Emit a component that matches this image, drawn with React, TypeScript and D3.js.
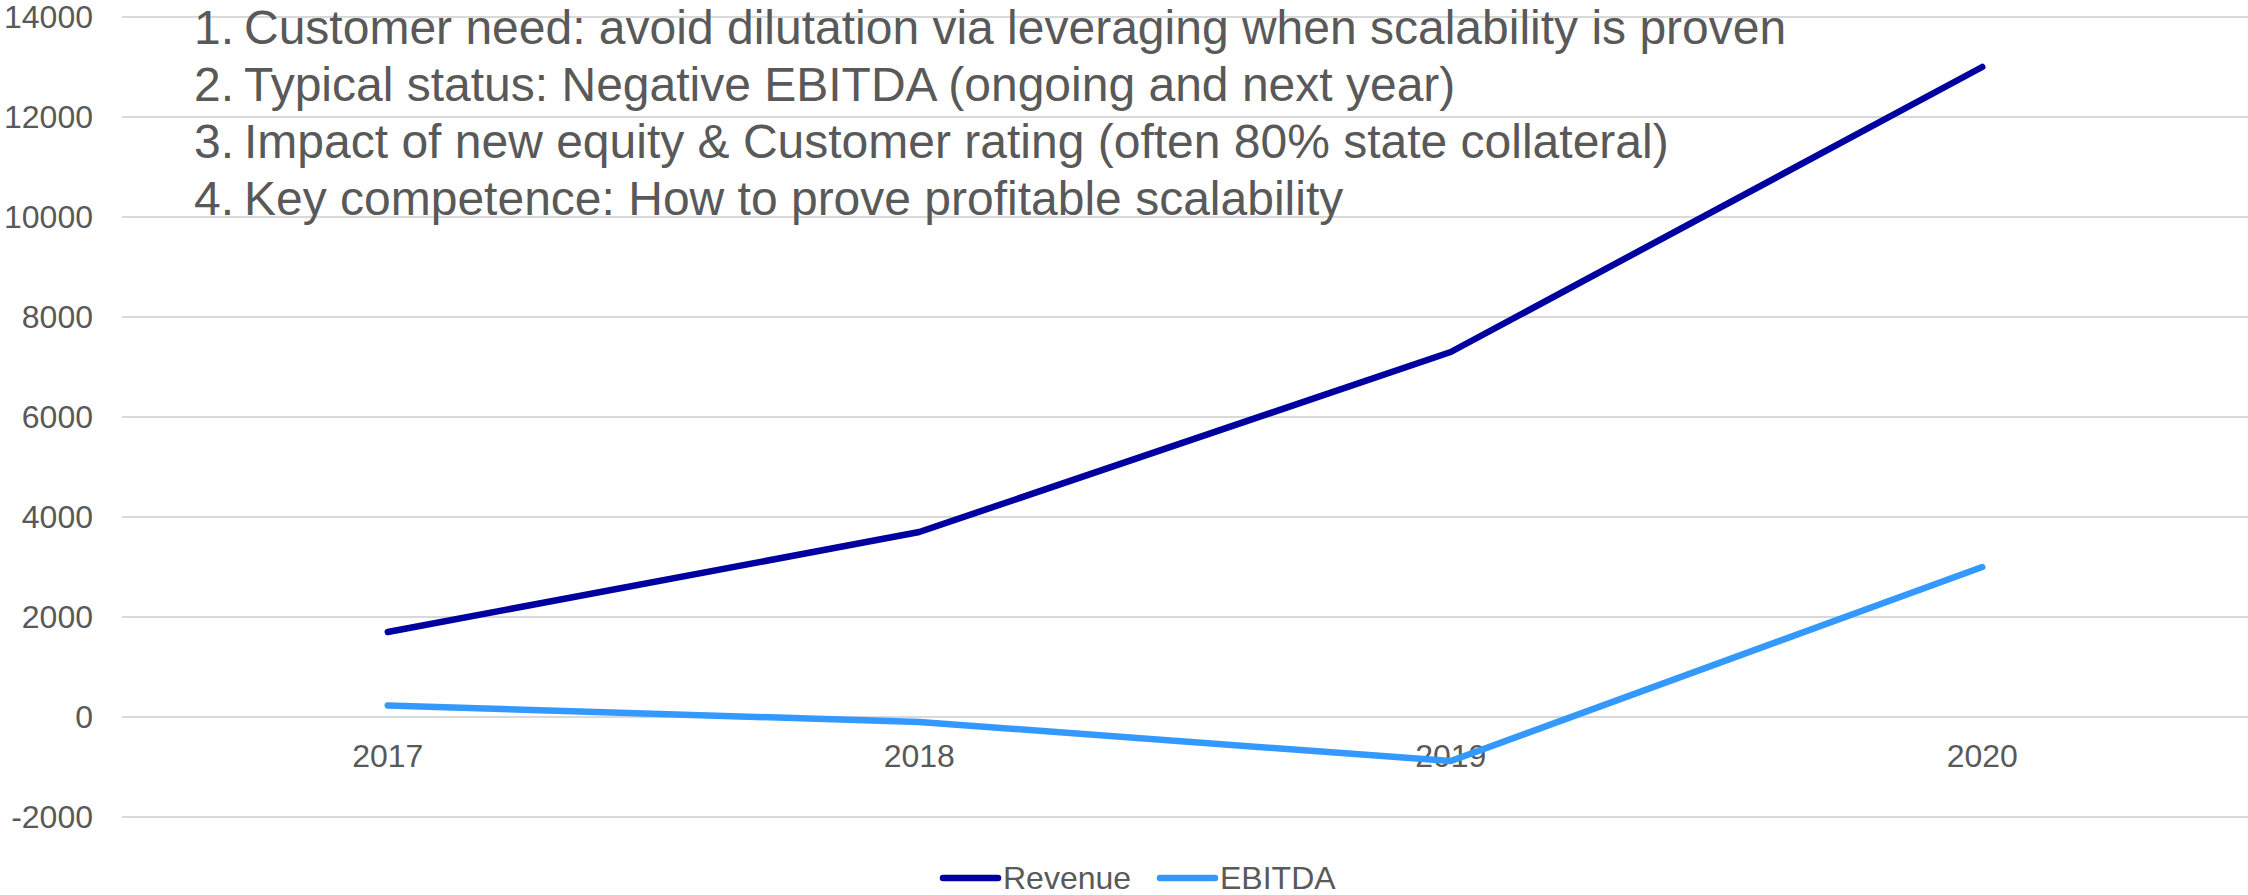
import React, { useEffect, useRef } from 'react'
import * as d3 from 'd3'

const years = ['2017', '2018', '2019', '2020']
const revenue = [1700, 3700, 7300, 13000]
const ebitda = [230, -100, -880, 3000]
const yTicks = [-2000, 0, 2000, 4000, 6000, 8000, 10000, 12000, 14000]
const notes = [
    'Customer need: avoid dilutation via leveraging when scalability is proven',
    'Typical status: Negative EBITDA (ongoing and next year)',
    'Impact of new equity & Customer rating (often 80% state collateral)',
    'Key competence: How to prove profitable scalability'
]
const seriesNames = ['Revenue', 'EBITDA']
const seriesColors = ['#0000a0', '#3399ff']

const width = 2248
const height = 895
const margin = { top: 17, right: 0, bottom: 78, left: 122 }
const font = '"Liberation Sans", Arial, sans-serif'
const textColor = '#595959'

export default function App() {
    const node = useRef<SVGSVGElement>(null)

    useEffect(() => {
        const svg = d3.select(node.current)
        svg.selectAll('*').remove()

        const x = d3.scaleBand()
            .domain(years)
            .range([margin.left, width - margin.right])
            .paddingInner(0)

        const y = d3.scaleLinear()
            .domain([-2000, 14000])
            .range([height - margin.bottom, margin.top])

        // gridlines
        svg.append('g')
            .selectAll('line')
            .data(yTicks)
            .join('line')
            .attr('x1', margin.left)
            .attr('x2', width - margin.right)
            .attr('y1', d => y(d))
            .attr('y2', d => y(d))
            .attr('stroke', '#d9d9d9')
            .attr('stroke-width', 2)

        // y labels
        svg.append('g')
            .attr('font-family', font)
            .attr('font-size', 32)
            .attr('fill', textColor)
            .attr('text-anchor', 'end')
            .selectAll('text')
            .data(yTicks)
            .join('text')
            .attr('x', 93)
            .attr('y', d => y(d))
            .attr('dominant-baseline', 'central')
            .text(d => d)

        // category labels
        svg.append('g')
            .attr('font-family', font)
            .attr('font-size', 32)
            .attr('fill', textColor)
            .attr('text-anchor', 'middle')
            .selectAll('text')
            .data(years)
            .join('text')
            .attr('x', d => x(d)! + x.bandwidth() / 2)
            .attr('y', 756)
            .attr('dominant-baseline', 'central')
            .text(d => d)

        const line = d3.line<number>()
            .x((d, i) => x(years[i])! + x.bandwidth() / 2)
            .y(d => y(d))

        ;[revenue, ebitda].forEach((s, k) => {
            svg.append('path')
                .datum(s)
                .attr('d', line)
                .attr('fill', 'none')
                .attr('stroke', seriesColors[k])
                .attr('stroke-width', 6.5)
                .attr('stroke-linecap', 'round')
                .attr('stroke-linejoin', 'round')
        })

        // annotation list
        const notesG = svg.append('g')
            .attr('font-family', font)
            .attr('font-size', 48)
            .attr('fill', textColor)
        notes.forEach((t, i) => {
            const by = 44 + i * 57
            notesG.append('text').attr('x', 194).attr('y', by).text(`${i + 1}.`)
            notesG.append('text').attr('x', 244).attr('y', by).text(t)
        })

        // legend
        const legendX = [943, 1160]
        const legend = svg.append('g')
            .attr('font-family', font)
            .attr('font-size', 32)
            .attr('fill', textColor)
        seriesNames.forEach((n, k) => {
            legend.append('line')
                .attr('x1', legendX[k])
                .attr('x2', legendX[k] + 55)
                .attr('y1', 878)
                .attr('y2', 878)
                .attr('stroke', seriesColors[k])
                .attr('stroke-width', 6.5)
                .attr('stroke-linecap', 'round')
            legend.append('text')
                .attr('x', legendX[k] + 60)
                .attr('y', 878)
                .attr('dominant-baseline', 'central')
                .text(n)
        })
    }, [])

    return (
        <svg
            ref={node}
            width={width}
            height={height}
            style={{ position: 'absolute', left: 0, top: 0, background: '#fff' }}
        />
    )
}
